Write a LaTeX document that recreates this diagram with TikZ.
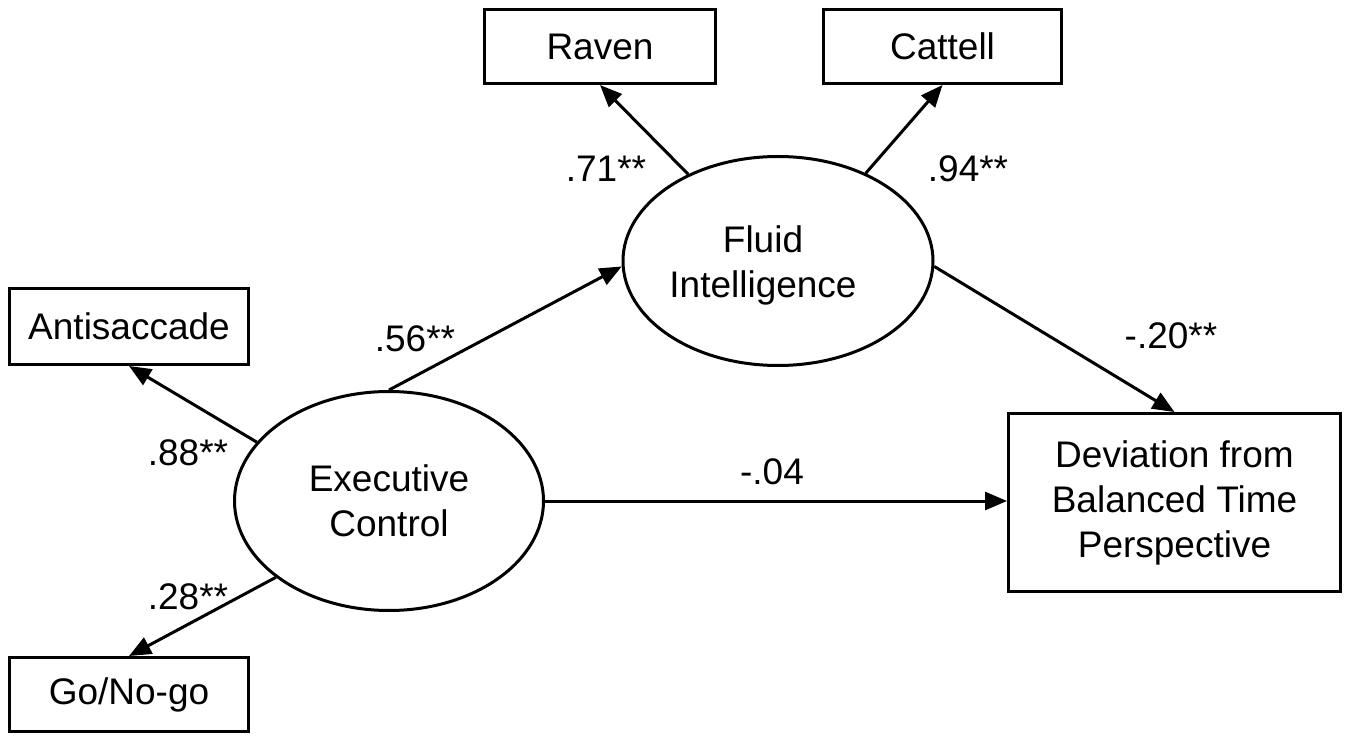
\documentclass[tikz,border=0pt]{standalone}
\usepackage{fontspec}
\setmainfont{Liberation Sans}
\usetikzlibrary{shapes.geometric,arrows.meta}
\begin{document}
\begin{tikzpicture}[x=1pt,y=-1pt,
  every node/.style={font=\fontsize{37}{45}\selectfont},
  box/.style={draw, line width=3pt, rectangle, inner sep=0pt, align=center},
  latent/.style={draw, line width=3pt, ellipse, inner sep=0pt, align=center},
  pth/.style={line width=3pt, -{Triangle[length=22pt,width=18pt]}},
  coef/.style={inner sep=0pt}]
\useasboundingbox (0,0) rectangle (1350,743);

% observed variables
\node[box, minimum width=231pt, minimum height=74pt] (raven) at (600,46.5) {Raven};
\node[box, minimum width=238pt, minimum height=74pt] (cattell) at (942.5,46.5) {Cattell};
\node[box, minimum width=239pt, minimum height=76pt] (anti) at (129,326.5) {Antisaccade};
\node[box, minimum width=239pt, minimum height=74pt] (go) at (129,694.5) {Go/No-go};
\node[box, minimum width=332pt, minimum height=178pt] (dev) at (1174.5,502.5) {Deviation from\\Balanced Time\\Perspective};

% latent variables
\node[latent, minimum width=310pt, minimum height=209pt,
  label={[align=center,xshift=-15pt,yshift=-4pt]center:Fluid\\Intelligence}] (fluid) at (778,261) {};
\node[latent, minimum width=309pt, minimum height=219pt] (exec) at (389,501) {Executive\\Control};

% paths
\draw[pth] (fluid.136.6) -- (raven.south);
\draw[pth] (fluid.45) -- (cattell.south);
\draw[pth] (exec.north) -- (fluid.182);
\draw[pth] (fluid.-2.5) -- (dev.north);
\draw[pth] (exec.east) -- (exec.east -| dev.west);
\draw[pth] (exec.156) -- (anti.south);
\draw[pth] (exec.214) -- (go.north);

% coefficients
\node[coef] (c71) at (606,168.5) {.71**};
\node[coef] (c94) at (968,168.5) {.94**};
\node[coef] (c56) at (415,339) {.56**};
\node[coef] (c20) at (1171,335.5) {-.20**};
\node[coef] (c04) at (772,471.5) {-.04};
\node[coef] (c88) at (188,452.5) {.88**};
\node[coef] (c28) at (188,596.5) {.28**};
\end{tikzpicture}
\end{document}
